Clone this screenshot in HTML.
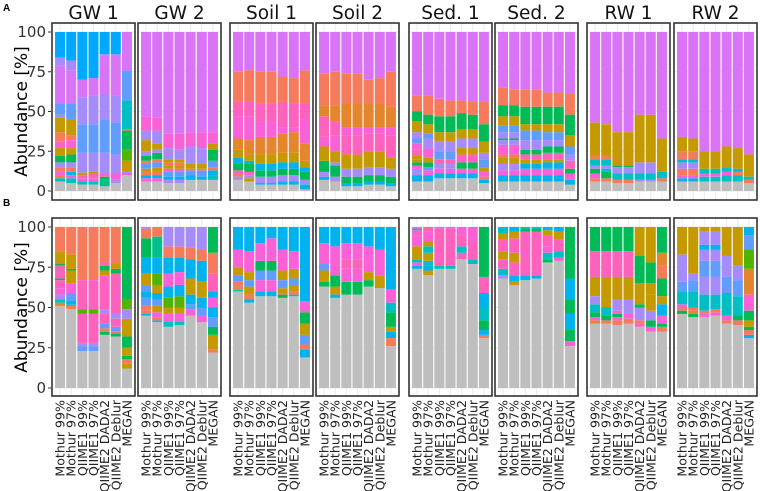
<!DOCTYPE html>
<html><head><meta charset="utf-8"><style>
body{margin:0;background:#fff;}
svg{display:block;font-family:"DejaVu Sans","Liberation Sans",sans-serif;}
</style></head><body>
<svg id="chart" width="760" height="491" viewBox="0 0 760 491"></svg>
<script>
const panelTitles = ["GW 1","GW 2","Soil 1","Soil 2","Sed. 1","Sed. 2","RW 1","RW 2"];
const methods = ["Mothur 99%","Mothur 97%","QIIME1 99%","QIIME1 97%","QIIME2 DADA2","QIIME2 Deblur","MEGAN"];
const yTicks = [0,25,50,75,100];
// each bar: "colorKey cumulativeTop ..." from bottom; last segment reaches 100
const rowA = [
 ["g6 q8 s10 p12 s15 l18 G22 y27 p31 s37 y46 l48 c55 v79 l84 b100","g5 q8 p10 k12 s15 l18 G23 y27 p32 s35 y45 c55 v76 l82 b100","g4 q6 p8 h10 y11.5 l24 c42 l59 v70 b100","g4 q6 p8 h11 y12 l24 c42 l60 v71 b100","g3 t7 G9 p11 l24 c45 l61 v85 l86 b100","g5 l7 p11 l23 c43 l60 v86 b100","g10 p11 l12 y19 m26 G38 s39 q57 c76 v100"],
 ["g6 p8 k10 s12 y14 c17 s19 G22 l25 y32 l38 p47 v100","g6 p8 k10 s12 y15 c18 s20 G24 l26 y30 l38 p46 v100","g5 l7 k9 c12 p14 y16 s18 y20 l27 p36 v100","g5 l7 k9 c12 p14 y16 s18 y20 l26 p36 v100","g7 k10 c13 s14 y17 l22 l28 p37 v100","g7 k9 c13 s14 y17 l22 l27 p37 v100","g7 q10 k13 s15 c19 G22 G26 y30 p37 v100"],
 ["g7 l9 s11 p13 G17 k21 y26 o33 p47 h56 s75 v100","g6 y8 l10 p12 G17 k19 y23 o32 p47 h56 s76 v100","g4 k5 l9 G13 k17 y23 o34 p44 h55 s75 v100","g4 k5 l9 G13 k17 y23 o34 p44 h55 s75 v100","g4 k6 l10 G14 k18 y24 o36 p40 h56 s72 v100","g4 k6 l10 G14 k18 y24 o37 p40 h55 s71 v100","g1 k4 l7 G12 k15 y19 o30 p45 h55 s76 v100"],
 ["g7 k9 l12 G19 y28 p34 h47 o54 s74 v100","g6 l9 G16 l18 y25 p35 h44 o54 s75 v100","g3 k5 G9 l14 y23 h35 p40 o55 s74 v100","g3 k5 G9 l14 y23 h35 p40 o55 s74 v100","g4 k6 G10 l15 y25 h36 p40 o55 s70 v100","g4 k6 G10 l15 y25 h36 p40 o55 s71 v100","g3 k5 G9 l14 y21 h35 p40 o53 s75 v100"],
 ["g6 k10 l14 p16 G18 y20 y22 h26 p30 c33 l37 y44 G50 s60 v100","g6 k10 p13 c15 G18 y21 p27 l33 c36 y42 G48 s60 v100","g8 k11 p14 l17 h20 c25 l31 y37 G47 s58 v100","g8 k11 p14 l17 h20 c25 l31 y37 G47 s57 v100","g8 k11 p14 G18 h23 y27 l33 y39 G49 s57 v100","g8 k11 p14 G18 h23 y27 l33 y39 G48 s56 v100","g5 k7 s9 p12 y15 c20 l24 y31 G42 s56 v100"],
 ["g6 k10 p13 l17 y21 s23 p29 l32 G33 l37 c41 y47 G54 s65 v100","g6 k10 p13 l17 y21 s23 p29 l32 G33 l37 c41 y47 G54 s64 v100","g6 k10 p14 k17 y20 h23 G26 l32 c38 y42 G53 s64 v100","g6 k10 p14 k17 y20 h23 G26 l32 c38 y42 G53 s64 v100","g6 k10 p14 k18 y20 h24 G28 l32 c37 y42 G53 s62 v100","g6 k10 p14 k18 y20 h24 G28 l32 c37 y42 G53 s62 v100","g4 k7 p11 G14 h19 l23 c28 y35 G48 s61 v100"],
 ["g6 s8 p11 G14 l16 q20 s22 y43 v100","g6 s8 G12 q14 l16 q20 s22 y42 v100","g5 s7 q11 l15 G16 y37 v100","g5 s7 q11 l15 G16 y37 v100","g6 l7 q11 l18 y48 v100","g6 l7 q11 l18 y48 v100","g6 s8 q12 y33 v100"],
 ["g6 k8 p10 s14 l18 q20 s25 y34 v100","g6 k8 p10 s14 l18 q20 s25 y33 v100","g6 q9 p11 q14 y25 v100","g6 q9 p11 q14 y25 v100","g6 q10 p12 q15 y28 v100","g6 q10 s12 q14 y27 v100","g5 s7 q9 y23 v100"]
];
const rowB = [
 ["g51 o53 q55 l58 p62 h67 G68 h76 G77 y85 s100","g49 s51 q52 k54 c59 p65 y73 G74 y83 s100","g23 c26 l28 h46 m49 h67 s100","g23 c26 l28 h46 m49 h67 s100","g33 G35 s37 c40 h46 l49 h70 y73 G76 h78 s100","g32 G34 s35 c38 h43 l46 h71 G74 y77 s100","g12 y15 s18 G20 y25 G32 y43 l49 m55 G100"],
 ["g45 k46 s48 s51 c56 k60 c64 y71 k81 G93 s99 l100","g41 q42 s44 p47 y51 c55 k59 y64 m71 k81 t94 s100","g38 q41 p46 y50 m56 k63 p71 k81 s88 l100","g39 q41 p46 y50 m57 k64 p72 k81 s88 l100","g45 p49 c52 k58 y68 k80 s87 l100","g41 p45 c50 k56 y66 k79 s86 l100","g22 s24 y27 y33 G38 c44 k50 p56 k60 h71 s84 G100"],
 ["g60 q61 s63 s66 c70 y75 p86 k100","g53 k55 s58 y63 c67 y72 p85 k100","g57 k60 p67 c73 G79 p90 k100","g57 k60 p67 c73 G79 p93 k100","g56 G58 s59 y62 c67 y73 p86 k100","g57 k58 s60 y64 c68 y74 p85 k100","g19 k24 s27 c33 y40 G47 p54 k100"],
 ["g63 G66 y73 c77 p90 k100","g56 k58 y63 G70 p88 k100","g58 G66 p74 h80 p90 k100","g58 G66 p74 h80 p90 k100","g63 G67 y72 p88 k100","g62 y70 p86 k100","g26 s31 k35 y38 G47 q53 p61 k100"],
 ["g74 k76 p78 q80 y88 p95 h98 k99 p100","g70 y73 k76 q79 y84 q88 y91 p97 h100","g74 q76 h99 p100","g74 q76 h99 p100","g80 h84 q88 h95 p100","g77 q80 h91 p100","g31 s33 k36 G42 q50 k59 h69 G100"],
 ["g68 l70 q74 h80 y85 h92 y96 q100","g64 y66 k70 h78 y84 h93 y97 k100","g67 k70 h97 G99 q100","g68 k70 h97 G99 q100","g78 G80 q84 p88 h95 y98 k100","g79 p81 q85 h92 y97 k100","g26 p29 G36 k46 G55 k68 G100"],
 ["g40 o42 p44 G47 q52 l57 y69 h85 G100","g40 s42 G45 q50 y55 y69 h85 G100","g39 s42 p44 G46 p48 l55 y69 h85 G100","g40 s43 p46 l55 y69 h85 G100","g38 p40 s42 l50 G52 y55 y65 G82 y100","g35 p38 G42 l48 y58 y65 G78 y100","g35 s38 G40 p45 k52 y57 G68 s76 o84 G100"],
 ["g46 G48 s50 p52 q60 c66 l83 y100","g44 G46 o48 s50 q60 c67 l71 y100","g44 p46 s48 q58 l69 c79 l86 k89 l97 y100","g45 p47 s49 q58 l69 c79 l86 k89 l97 y100","g40 s42 p45 q59 c69 l82 y100","g39 s42 G45 q57 c67 l76 y100","g31 k33 s36 G38 y42 G48 p58 o74 m86 c95 k100"]
];
const palette = {g:"#bebebe",v:"#d974f6",b:"#00a8ff",l:"#a68cfb",c:"#619cff",p:"#fb61d7",h:"#ff62bc",s:"#f57b5c",o:"#e4862e",y:"#c49a00",G:"#00bb55",t:"#00c08b",q:"#00bfc4",k:"#00b2ee",m:"#53b400"};

const NS="http://www.w3.org/2000/svg";
const svg=document.getElementById('chart');
function mk(tag,attrs,parent){const e=document.createElementNS(NS,tag);for(const k in attrs)e.setAttribute(k,attrs[k]);(parent||svg).appendChild(e);return e;}
const panelX=[52,138,230,316,409,495,587,674], panelW=83;
const rows=[{data:rowA,top:23,bot:200,y100:32,y0:191,label:"A"},{data:rowB,top:218,bot:396,y100:227,y0:388,label:"B"}];

rows.forEach((row,ri)=>{
  const yScale=v=>row.y0+(row.y100-row.y0)*v/100;
  const lab=mk('text',{x:3,y:row.top-12,'font-size':10,'font-weight':'bold','font-family':'Liberation Sans, sans-serif'});
  
  
  lab.textContent=row.label;
  const yt=mk('text',{transform:`translate(27,${(row.y0+row.y100)/2}) rotate(-90)`,'text-anchor':'middle','font-size':17});
  
  
  yt.textContent="Abundance [%]";
  yTicks.forEach(t=>{
    const tx=mk('text',{x:46,y:yScale(t)+5,'text-anchor':'end','font-size':15,fill:'#333'});
    
    
    tx.textContent=t;
    mk('line',{x1:48,x2:51,y1:yScale(t),y2:yScale(t),stroke:'#333','stroke-width':1});
  });
  row.data.forEach((panel,pi)=>{
    const px=panelX[pi];
    const g=mk('g',{});
    
    
    mk('rect',{x:px,y:row.top,width:panelW,height:row.bot-row.top,fill:'#fff'},g);
    const band=(panelW-5)/7;
    yTicks.forEach(t=>mk('line',{x1:px,x2:px+panelW,y1:yScale(t),y2:yScale(t),stroke:'#ebebeb','stroke-width':1},g));
    panel.forEach((bar,bi)=>{
      const cx=px+2.5+band*(bi+0.5);
      mk('line',{x1:cx,x2:cx,y1:row.top,y2:row.bot,stroke:'#ebebeb','stroke-width':1},g);
      let prev=0;
      bar.trim().split(/\s+/).forEach(tok=>{
        const key=tok[0], top=parseFloat(tok.slice(1));
        const r=mk('rect',{x:cx-band*0.45,width:band*0.9,y:yScale(top),height:Math.max(0,yScale(prev)-yScale(top)),fill:palette[key]},g);
        
        
        prev=top;
      });
      if(ri===1){
        const t=mk('text',{transform:`translate(${cx+4.5},400) rotate(-90)`,'text-anchor':'end','font-size':12.6,fill:'#222'});
        
        
        t.textContent=methods[bi];
      }
    });
    mk('rect',{x:px,y:row.top,width:panelW,height:row.bot-row.top,fill:'none',stroke:'#333','stroke-width':1.6},g);
    if(ri===0){
      const tt=mk('text',{x:px+panelW/2,y:19,'text-anchor':'middle','font-size':18.5,fill:'#111'});
      
      
      tt.textContent=panelTitles[pi];
    }
  });
});
</script>
</body></html>
